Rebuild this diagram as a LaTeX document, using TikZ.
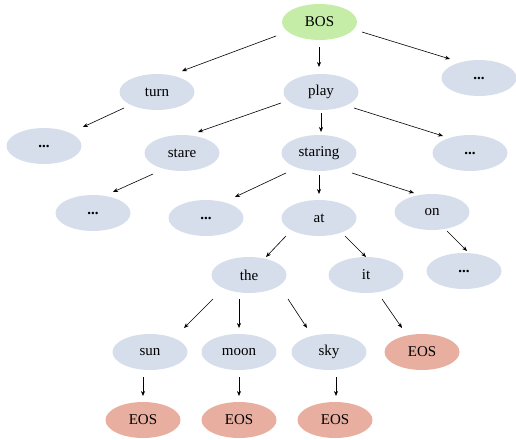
\documentclass[tikz,border=0pt]{standalone}
\usepackage{fontspec}
\setmainfont{Liberation Serif}
\usetikzlibrary{shapes.geometric,arrows.meta,calc}
\definecolor{bosgreen}{HTML}{C6EDA8}
\definecolor{eosred}{HTML}{E8AFA0}
\definecolor{tokblue}{HTML}{D6DEEC}
\tikzset{
  tok/.style={ellipse,fill=tokblue,draw=none,minimum width=75pt,minimum height=36pt,inner sep=0pt,font=\fontsize{15}{17}\selectfont},
  bos/.style={tok,fill=bosgreen},
  eos/.style={tok,fill=eosred},
  link/.style={-{Stealth[length=5pt,width=4pt]},line width=0.6pt,black}
}
\newcommand\linkit[4]{\draw[link] ($(#1)+(#2)$) -- ($(#3)+(#4)$);}
\newcommand\dotsym{\textbf{...}}
\begin{document}
\begin{tikzpicture}[x=1pt,y=-1pt]
\useasboundingbox (0,0) rectangle (516,439);
\node[bos] (BOS) at (319.5,22) {BOS};
\node[tok] (turn) at (157,92) {turn};
\node[tok] (play) at (321,92) {play};
\node[tok] (d1) at (479,78) {\dotsym};
\node[tok] (d2) at (44,146) {\dotsym};
\node[tok] (stare) at (182,153) {stare};
\node[tok] (staring) at (319,153) {staring};
\node[tok] (d3) at (470,153) {\dotsym};
\node[tok] (d4) at (93,213) {\dotsym};
\node[tok] (d5) at (206,218) {\dotsym};
\node[tok] (at) at (319,218) {at};
\node[tok] (on) at (432,212) {on};
\node[tok] (the) at (249,275) {the};
\node[tok] (it) at (366,275) {it};
\node[tok] (d6) at (464,271) {\dotsym};
\node[tok] (sun) at (150,352) {sun};
\node[tok] (moon) at (239,352) {moon};
\node[tok] (sky) at (329,352) {sky};
\node[eos] (eos0) at (422,352) {EOS};
\node[eos] (eos1) at (143,420) {EOS};
\node[eos] (eos2) at (239,420) {EOS};
\node[eos] (eos3) at (335,420) {EOS};

\linkit{BOS}{-43.5,14}{turn}{25,-21}
\linkit{BOS}{-0.5,25}{play}{-2,-25}
\linkit{BOS}{42.5,10}{d1}{-29,-19}
\linkit{turn}{-33,16}{d2}{39,-19}
\linkit{play}{-40,11}{stare}{16,-21}
\linkit{play}{0,21}{staring}{2,-21}
\linkit{play}{33,16}{d3}{-27,-17}
\linkit{stare}{-29,21}{d4}{20,-21}
\linkit{staring}{-33,20}{d5}{29,-21}
\linkit{staring}{0,22}{at}{0,-24}
\linkit{staring}{33,20}{on}{-18,-19}
\linkit{at}{-33,18}{the}{17,-18}
\linkit{at}{26,18}{it}{0,-18}
\linkit{on}{15,19}{d6}{3,-20}
\linkit{the}{-36,24}{sun}{34,-24}
\linkit{the}{-10,24}{moon}{0,-24}
\linkit{the}{39,24}{sky}{-22,-24}
\linkit{it}{16,24}{eos0}{-20,-24}
\linkit{sun}{-7,25}{eos1}{0,-24}
\linkit{moon}{0,25}{eos2}{0,-24}
\linkit{sky}{7,25}{eos3}{1,-24}
\end{tikzpicture}
\end{document}
